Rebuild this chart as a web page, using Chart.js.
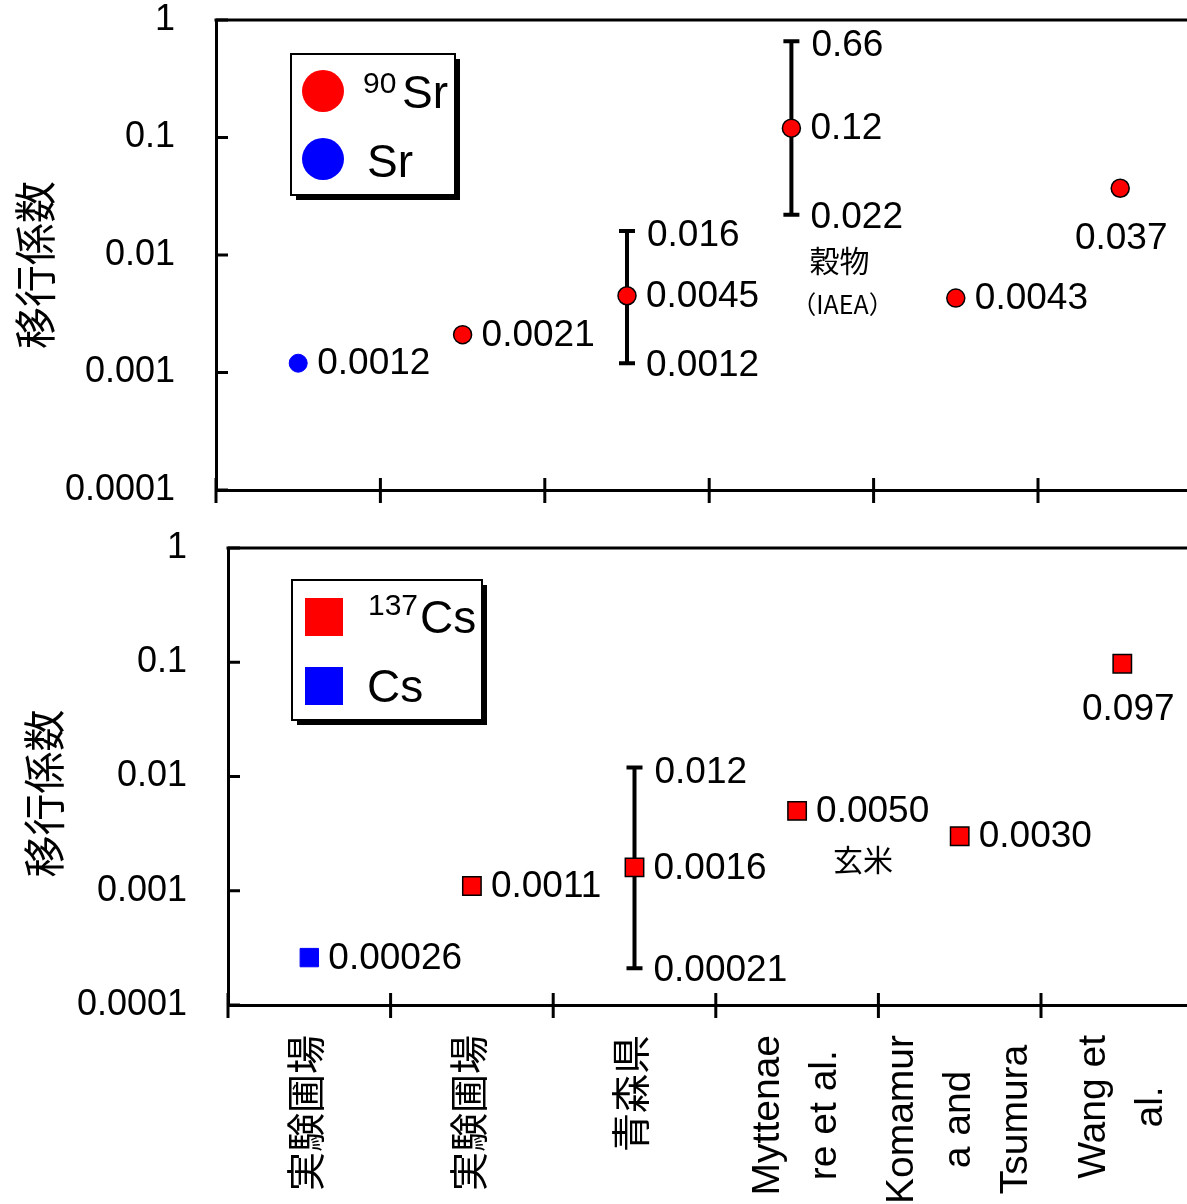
<!DOCTYPE html>
<html><head><meta charset="utf-8">
<script src="https://cdn.jsdelivr.net/npm/chart.js@4.4.0/dist/chart.umd.min.js"></script>
<style>
html,body{margin:0;padding:0;background:#fff;overflow:hidden;width:1187px;height:1204px;position:relative;}
canvas{position:absolute;left:0;}
#c1{top:0}
#c2{top:520px}
</style></head><body>
<canvas id="c1" width="1240" height="520"></canvas>
<canvas id="c2" width="1240" height="684"></canvas>
<script>
// ---------- data ----------
const categories = [["実験圃場"],["実験圃場"],["青森県"],["Myttenae","re et al."],["Komamur","a and","Tsumura"],["Wang et","al."]];
const yTickValues = [0.0001, 0.001, 0.01, 0.1, 1];
const yTickLabels = ["0.0001", "0.001", "0.01", "0.1", "1"];
const yTitle = "移行係数";

const srLegend = [["90", "Sr"], ["", "Sr"]];
const sr90Values = [null, 0.0021, 0.0045, 0.12, 0.0043, 0.037];
const srStableValues = [0.0012, null, null, null, null, null];
const srLow = [null, null, 0.0012, 0.022, null, null];
const srHigh = [null, null, 0.016, 0.66, null, null];
const srValueText = ["0.0012", "0.0021", "0.0045", "0.12", "0.0043", "0.037"];
const srLowText = [null, null, "0.0012", "0.022", null, null];
const srHighText = [null, null, "0.016", "0.66", null, null];
const srNotes = [null, null, null, ["穀物", "（IAEA）"], null, null];

const csLegend = [["137", "Cs"], ["", "Cs"]];
const cs137Values = [null, 0.0011, 0.0016, 0.0050, 0.0030, 0.097];
const csStableValues = [0.00026, null, null, null, null, null];
const csLow = [null, null, 0.00021, null, null, null];
const csHigh = [null, null, 0.012, null, null, null];
const csValueText = ["0.00026", "0.0011", "0.0016", "0.0050", "0.0030", "0.097"];
const csLowText = [null, null, "0.00021", null, null, null];
const csHighText = [null, null, "0.012", null, null, null];
const csNotes = [null, null, null, ["玄米"], null, null];

// ---------- styling ----------
const LATIN = '"Liberation Sans", Arial, "Noto Sans CJK JP", sans-serif';
const CJK = '"Noto Sans CJK JP", "Noto Sans CJK SC", sans-serif';
const RED = '#FF0000', BLUE = '#0000FF';

function panelPlugin(p) {
  return {
    id: 'panel_' + p.name,
    beforeDatasetsDraw(chart) {
      const ctx = chart.ctx, xs = chart.scales.x, ys = chart.scales.y;
      ctx.save();
      ctx.strokeStyle = '#000'; ctx.lineWidth = 4; ctx.lineCap = 'butt';
      p.low.forEach((lo, i) => {
        if (lo == null) return;
        const px = xs.getPixelForValue(i);
        const y1 = ys.getPixelForValue(lo), y2 = ys.getPixelForValue(p.high[i]);
        ctx.beginPath();
        ctx.moveTo(px, y1); ctx.lineTo(px, y2);
        ctx.stroke();
        ctx.beginPath();
        ctx.moveTo(px - 8, y1); ctx.lineTo(px + 8, y1);
        ctx.moveTo(px - 8, y2); ctx.lineTo(px + 8, y2);
        ctx.stroke();
      });
      ctx.restore();
    },
    afterDraw(chart) {
      const ctx = chart.ctx, xs = chart.scales.x, ys = chart.scales.y, ca = chart.chartArea;
      const n = categories.length;
      ctx.save();
      ctx.strokeStyle = '#000'; ctx.lineWidth = 3;
      // frame top
      ctx.beginPath(); ctx.moveTo(ca.left - 1.5, ca.top); ctx.lineTo(ca.right, ca.top); ctx.stroke();
      // inward y ticks
      yTickValues.forEach(v => {
        const py = ys.getPixelForValue(v);
        ctx.beginPath(); ctx.moveTo(ca.left, py); ctx.lineTo(ca.left + 12, py); ctx.stroke();
      });
      // x ticks crossing axis at category boundaries
      for (let i = 0; i < n; i++) {
        const px = xs.getPixelForDecimal(i / n);
        ctx.beginPath(); ctx.moveTo(px, ca.bottom - 12); ctx.lineTo(px, ca.bottom + 13); ctx.stroke();
      }
      // data labels
      ctx.fillStyle = '#000';
      ctx.font = '37px ' + LATIN;
      ctx.textBaseline = 'middle';
      p.valueText.forEach((t, i) => {
        if (t == null) return;
        const v = p.main[i] != null ? p.main[i] : p.stable[i];
        const px = xs.getPixelForValue(i), py = ys.getPixelForValue(v);
        if (i === p.belowIndex) {
          ctx.textAlign = 'center';
          ctx.fillText(t, px + p.belowDx, py + p.belowDy);
        } else {
          ctx.textAlign = 'left';
          ctx.fillText(t, px + 19, py + 1);
        }
      });
      ctx.textAlign = 'left';
      p.highText.forEach((t, i) => {
        if (t == null) return;
        ctx.fillText(t, xs.getPixelForValue(i) + 20, ys.getPixelForValue(p.high[i]) + 5);
      });
      p.lowText.forEach((t, i) => {
        if (t == null) return;
        ctx.fillText(t, xs.getPixelForValue(i) + 19, ys.getPixelForValue(p.low[i]) + 3);
      });
      // notes
      ctx.textAlign = 'center';
      p.notes.forEach((lines, i) => {
        if (!lines) return;
        const base = ys.getPixelForValue(p.noteAnchor === 'low' ? p.low[i] : p.main[i]);
        const px = xs.getPixelForValue(i);
        lines.forEach((l, k) => {
          ctx.font = p.noteSizes[k] + 'px ' + CJK;
          ctx.fillText(l, px + p.noteDx[k], base + p.noteDy[k]);
        });
      });
      // axis title
      ctx.save();
      ctx.translate(p.titleX, (ca.top + ca.bottom) / 2 + p.titleDy);
      ctx.rotate(-Math.PI / 2);
      ctx.font = '42px ' + CJK;
      ctx.textAlign = 'center'; ctx.textBaseline = 'middle';
      ctx.fillText(yTitle, 0, 0);
      ctx.restore();
      // category labels
      if (p.showCategories) {
        ctx.font = '39px ' + LATIN;
        categories.forEach((lines, i) => {
          const px = xs.getPixelForValue(i);
          let w = 0; lines.forEach(l => { w = Math.max(w, ctx.measureText(l).width); });
          const cy = ca.bottom + 30 + w / 2;
          ctx.save();
          ctx.translate(px, cy);
          ctx.rotate(-Math.PI / 2);
          ctx.textAlign = 'center'; ctx.textBaseline = 'middle';
          lines.forEach((l, k) => {
            ctx.fillText(l, 0, (k - (lines.length - 1) / 2) * p.catLineGap);
          });
          ctx.restore();
        });
      }
      // legend
      const L = p.legend;
      const bx = ca.left + L.dx, by = ca.top + L.dy;
      ctx.fillStyle = '#000';
      ctx.fillRect(bx + 5, by + 5, L.w, L.h);
      ctx.fillStyle = '#fff';
      ctx.fillRect(bx, by, L.w, L.h);
      ctx.lineWidth = 2; ctx.strokeStyle = '#000';
      ctx.strokeRect(bx, by, L.w, L.h);
      const colors = chart.data.datasets.map(d => d.pointBackgroundColor);
      p.legendItems.forEach((it, k) => {
        ctx.fillStyle = colors[k];
        const m = L.markers[k];
        if (L.shape === 'circle') {
          ctx.beginPath(); ctx.arc(bx + m[0], by + m[1], L.r, 0, Math.PI * 2); ctx.fill();
        } else {
          ctx.fillRect(bx + m[0] - L.r, by + m[1] - L.r, 2 * L.r, 2 * L.r);
        }
        ctx.fillStyle = '#000';
        ctx.textAlign = 'left'; ctx.textBaseline = 'alphabetic';
        const tp = L.text[k];
        if (it[0]) {
          ctx.font = L.supSize + 'px ' + LATIN;
          ctx.fillText(it[0], bx + tp[0], by + tp[1]);
          ctx.font = L.size + 'px ' + LATIN;
          ctx.fillText(it[1], bx + tp[2], by + tp[3]);
        } else {
          ctx.font = L.size + 'px ' + LATIN;
          ctx.fillText(it[1], bx + tp[0], by + tp[1]);
        }
      });
      ctx.restore();
    }
  };
}

function makeChart(id, p) {
  const canvas = document.getElementById(id);
  return new Chart(canvas, {
    type: 'line',
    data: {
      labels: categories.map(c => c.join(' ')),
      datasets: [
        { label: p.legendItems[0].join(''), data: p.main, showLine: false,
          pointStyle: p.shape, pointRadius: p.radius, pointHoverRadius: p.radius,
          pointBackgroundColor: RED, pointBorderColor: '#000', pointBorderWidth: 1.5, clip: false },
        { label: p.legendItems[1].join(''), data: p.stable, showLine: false,
          pointStyle: p.shape, pointRadius: p.radius, pointHoverRadius: p.radius,
          pointBackgroundColor: BLUE, pointBorderColor: BLUE, pointBorderWidth: 1, clip: false }
      ]
    },
    options: {
      responsive: false, animation: false, devicePixelRatio: 1,
      layout: { padding: { left: 0, top: p.top, right: canvas.width - p.right, bottom: 0 } },
      plugins: { legend: { display: false }, tooltip: { enabled: false } },
      events: [],
      scales: {
        x: {
          type: 'category', offset: true,
          grid: { display: false, drawTicks: false },
          border: { display: true, color: '#000', width: 3 },
          ticks: { display: false },
          afterFit: s => { s.height = p.xAxisHeight; s.paddingLeft = 0; s.paddingRight = 0; }
        },
        y: {
          type: 'logarithmic', min: yTickValues[0], max: yTickValues[yTickValues.length - 1],
          grid: { display: false, drawTicks: false },
          border: { display: true, color: '#000', width: 3 },
          afterBuildTicks: s => { s.ticks = yTickValues.map(v => ({ value: v })); },
          ticks: {
            autoSkip: false, padding: 41, color: '#000',
            font: { family: LATIN, size: 36, lineHeight: 1 },
            callback: (v, i) => yTickLabels[yTickValues.indexOf(v)] ?? ''
          },
          afterFit: s => { s.width = p.axisLeft; s.paddingTop = 0; s.paddingBottom = 0; }
        }
      }
    },
    plugins: [panelPlugin(p)]
  });
}

makeChart('c1', {
  name: 'sr', top: 20, right: 1202.4, axisLeft: 216, xAxisHeight: 30,
  shape: 'circle', radius: 9,
  main: sr90Values, stable: srStableValues, low: srLow, high: srHigh,
  valueText: srValueText, lowText: srLowText, highText: srHighText,
  belowIndex: 5, belowDx: 1, belowDy: 51,
  notes: srNotes, noteAnchor: 'low', noteDx: [48, 51], noteDy: [46, 90], noteSizes: [30, 25],
  titleX: 35, titleDy: 10, showCategories: false,
  legendItems: srLegend,
  legend: { dx: 75, dy: 34, w: 164, h: 141, shape: 'circle', r: 21,
    markers: [[32, 37], [32, 105]], size: 46, supSize: 30,
    text: [[72, 39, 111, 54], [76, 123]] }
});

makeChart('c2', {
  name: 'cs', top: 28, right: 1203.6, axisLeft: 228, xAxisHeight: 199,
  shape: 'rect', radius: 13,
  main: cs137Values, stable: csStableValues, low: csLow, high: csHigh,
  valueText: csValueText, lowText: csLowText, highText: csHighText,
  belowIndex: 5, belowDx: 6, belowDy: 46,
  notes: csNotes, noteAnchor: 'value', noteDx: [66], noteDy: [49], noteSizes: [30],
  titleX: 44, titleDy: 17, showCategories: true, catLineGap: 57,
  legendItems: csLegend,
  legend: { dx: 64, dy: 32, w: 190, h: 140, shape: 'rect', r: 19,
    markers: [[32, 37], [32, 106]], size: 46, supSize: 30,
    text: [[76, 35, 128, 53], [75, 122]] }
});
</script>
</body></html>
